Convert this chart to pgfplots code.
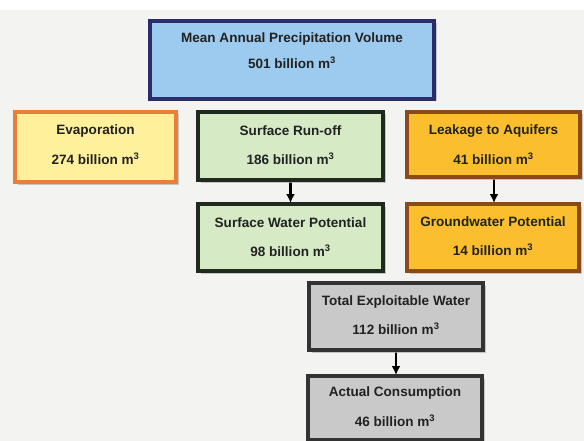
\documentclass[border=0pt]{standalone}
\usepackage{pgfplots}
\pgfplotsset{compat=1.18}
\usepackage{fontspec}
\setmainfont{Liberation Sans}
\usetikzlibrary{arrows.meta}
\definecolor{bg}{HTML}{F3F3F1}
\definecolor{blueF}{HTML}{9DCBEF}
\definecolor{blueD}{HTML}{2B2D6B}
\definecolor{yelF}{HTML}{FFF09C}
\definecolor{yelD}{HTML}{E8803A}
\definecolor{grnF}{HTML}{D6EAC6}
\definecolor{grnD}{HTML}{1F2A1F}
\definecolor{orF}{HTML}{FBBE2E}
\definecolor{orD}{HTML}{8A4A1A}
\definecolor{gryF}{HTML}{C9C9C9}
\definecolor{gryD}{HTML}{333333}
\definecolor{txt}{HTML}{222222}
% box: x1,y1,x2,y2,fill,draw
\newcommand{\flowbox}[6]{%
  \addplot[draw=none, fill=black!30, opacity=0.7, xshift=2.5bp, yshift=-2.5bp]
    coordinates {(#1,#2) (#3,#2) (#3,#4) (#1,#4)} -- cycle;
  \addplot[draw=#6, fill=#5, line width=3.2bp, line join=miter]
    coordinates {(#1,#2) (#3,#2) (#3,#4) (#1,#4)} -- cycle;
}
\newcommand{\boxtext}[4]{%
  \node[font=\fontsize{13.6}{15}\selectfont\bfseries, text=txt] at (axis cs:#1,#2) {#4};
}
\newcommand{\valtext}[3]{%
  \node[font=\fontsize{13.6}{15}\selectfont\bfseries, text=txt] at (axis cs:#1,#2) {#3 billion m\textsuperscript{3}};
}
\begin{document}
\begin{tikzpicture}
\begin{axis}[
  width=584bp, height=441bp, scale only axis,
  xmin=0, xmax=584, ymin=0, ymax=441, y dir=reverse,
  hide axis, clip=true,
]
\addplot[draw=none, fill=white] coordinates {(0,0) (584,0) (584,441) (0,441)} -- cycle;
\addplot[draw=none, fill=bg] coordinates {(0,10) (584,10) (584,441) (0,441)} -- cycle;

% arrows
\addplot[line width=2.2bp, black, -{Latex[length=9bp,width=9bp]}] coordinates {(290.5,180) (290.5,203)};
\addplot[line width=2.2bp, black, -{Latex[length=9bp,width=9bp]}] coordinates {(494,177) (494,203)};
\addplot[line width=2.2bp, black, -{Latex[length=9bp,width=9bp]}] coordinates {(396,350) (396,375)};

\flowbox{150}{21}{434}{99}{blueF}{blueD}
\flowbox{15}{112}{176}{182}{yelF}{yelD}
\flowbox{198}{112}{383}{180}{grnF}{grnD}
\flowbox{407}{112}{580}{177}{orF}{orD}
\flowbox{198}{204}{383}{271}{grnF}{grnD}
\flowbox{407}{204}{579}{271}{orF}{orD}
\flowbox{309}{283}{483}{350}{gryF}{gryD}
\flowbox{308}{376}{482}{440}{gryF}{gryD}

\boxtext{292}{39}{}{Mean Annual Precipitation Volume}
\valtext{292}{63}{501}
\boxtext{95.5}{131}{}{Evaporation}
\valtext{95.5}{159}{274}
\boxtext{290.5}{131}{}{Surface Run-off}
\valtext{290.5}{159}{186}
\boxtext{493.5}{131}{}{Leakage to Aquifers}
\valtext{493.5}{159}{41}
\boxtext{290.5}{223}{}{Surface Water Potential}
\valtext{290.5}{251}{98}
\boxtext{493}{222}{}{Groundwater Potential}
\valtext{493}{250}{14}
\boxtext{396}{302}{}{Total Exploitable Water}
\valtext{396}{329}{112}
\boxtext{395}{393}{}{Actual Consumption}
\valtext{395}{421}{46}
\end{axis}
\end{tikzpicture}
\end{document}
